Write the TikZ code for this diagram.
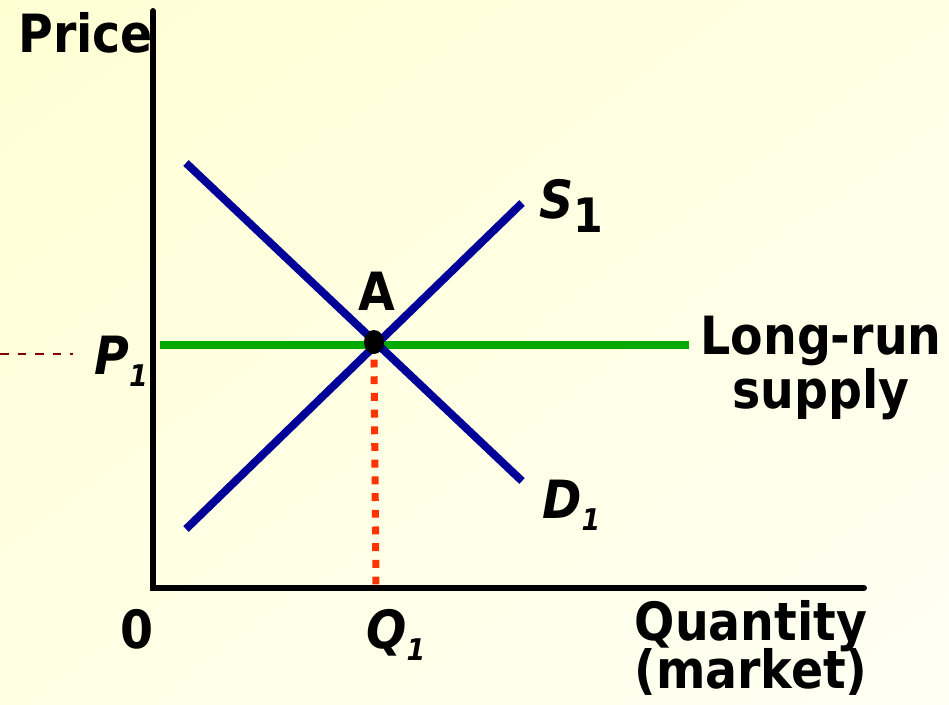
\documentclass[tikz,border=0pt]{standalone}
\usepackage{fontspec}
\setmainfont{DejaVu Sans Condensed}
\usepackage{xcolor}
\usetikzlibrary{shadings}
\definecolor{curve-blue}{HTML}{000099}
\definecolor{lr-green}{HTML}{00AA00}
\definecolor{q-red}{HTML}{FF3300}
\definecolor{p-red}{HTML}{800000}
\definecolor{bg-yellow}{HTML}{FFFFD4}
\definecolor{bg-mid}{HTML}{FFFFE4}
\definecolor{bg-pale}{HTML}{FFFFF4}
\newcommand{\isub}[2]{{\itshape #1\raisebox{-7pt}{\fontsize{17}{17}\selectfont #2}}}

\begin{document}
\begin{tikzpicture}[x=0.02cm, y=-0.02cm,
      lbl/.style={font=\fontsize{30}{30}\selectfont\bfseries, inner sep=0pt},
      axis/.style={line width=3.4pt, line cap=round},
      curve/.style={draw=curve-blue, line width=4.5pt},
      lrline/.style={draw=lr-green, line width=4pt},
      qline/.style={draw=q-red, line width=4pt, dash pattern=on 4.5pt off 5pt},
      pline/.style={draw=p-red, line width=1.1pt, dash pattern=on 5pt off 5pt}]
    % background
    \useasboundingbox (0,0) rectangle (949,704);
    \shade[upper left=bg-yellow, upper right=bg-mid, lower left=bg-mid,
           lower right=bg-pale] (0,0) rectangle (949,704);
    % axes
    \coordinate (O) at (153,588);
    \coordinate (ytop) at (153,11);
    \coordinate (xend) at (864,588);
    \draw[axis] (ytop) -- (O) -- (xend);
    % curves
    \coordinate (dtop) at (186,163);
    \coordinate (dbot) at (522,481);
    \coordinate (slow) at (186,529);
    \coordinate (stop) at (522,203);
    \coordinate (lrl) at (160,345);
    \coordinate (lrr) at (689,345);
    \draw[lrline] (lrl) -- (lrr);
    \draw[curve] (dtop) -- (dbot);
    \draw[curve] (slow) -- (stop);
    \coordinate (A) at (374,342);
    \coordinate (qfoot) at (376,587);
    \draw[qline] ([yshift=-10]A) -- (qfoot);
    \fill (A) ellipse [x radius=10, y radius=12];
    \coordinate (pleft) at (0,354);
    \coordinate (pright) at (73,354);
    \draw[pline] (pleft) -- (pright);
    % labels
    \node[lbl, anchor=base west] (price) at (18,52) {Price};
    \node[lbl, anchor=base] (alabel) at (377,310) {A};
    \node[lbl, anchor=base west] (s1) at (539,218)
      {{\itshape S}\raisebox{-8pt}{\fontsize{27}{27}\selectfont 1}};
    \node[lbl, anchor=base west] (d1) at (542,518) {\isub{D}{1}};
    \node[lbl, anchor=base west] (p1) at (94,374) {\isub{P}{1}};
    \node[lbl, anchor=base west] (q1) at (366,648) {\isub{Q}{1}};
    \node[lbl, anchor=base] (zero) at (137,648) {0};
    \node[lbl, anchor=base] (lr1) at (821,354) {Long-run};
    \node[lbl, anchor=base] (lr2) at (821,408) {supply};
    \node[lbl, anchor=base, text depth=0pt] (qty1) at (751,640) {Quantity};
    \node[lbl, anchor=base, text height=20pt] (qty2) at (751,688) {(market)};
  \end{tikzpicture}
\end{document}
